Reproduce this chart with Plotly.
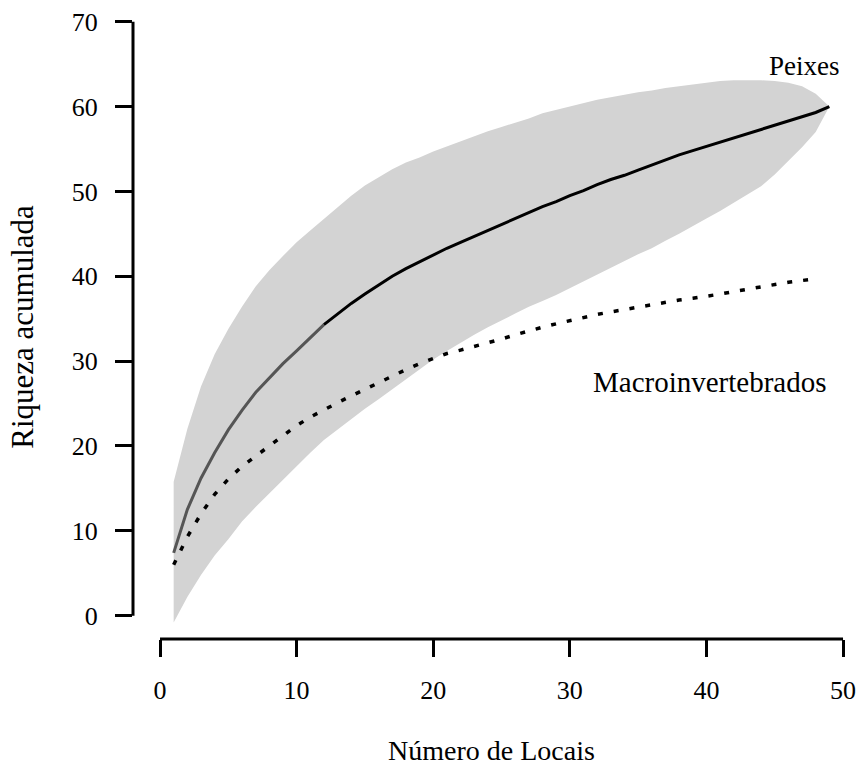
import plotly.graph_objects as go

# ---- data ----
sites = list(range(1, 50))
peixes = [7.4, 12.5, 16.2, 19.2, 21.9, 24.2, 26.3, 28.0, 29.7, 31.2,
          32.7, 34.3, 35.6, 36.8, 37.9, 39.0, 40.0, 40.9, 41.7, 42.5,
          43.3, 44.0, 44.7, 45.4, 46.1, 46.8, 47.5, 48.2, 48.8, 49.5,
          50.1, 50.8, 51.4, 51.9, 52.5, 53.1, 53.7, 54.3, 54.8, 55.3,
          55.8, 56.3, 56.8, 57.3, 57.8, 58.3, 58.8, 59.3, 60.0]
peixes_upper = [15.8, 22.0, 27.0, 30.8, 33.8, 36.4, 38.8, 40.7, 42.4, 44.0,
                45.4, 46.8, 48.1, 49.5, 50.7, 51.7, 52.6, 53.4, 54.0, 54.7,
                55.3, 55.9, 56.5, 57.1, 57.6, 58.1, 58.6, 59.2, 59.6, 60.0,
                60.4, 60.8, 61.1, 61.4, 61.7, 61.9, 62.2, 62.4, 62.6, 62.8,
                63.0, 63.1, 63.1, 63.1, 63.0, 62.8, 62.4, 61.5, 60.0]
peixes_lower = [-0.8, 2.2, 4.8, 7.1, 9.0, 11.1, 12.8, 14.5, 16.0, 17.6,
                19.2, 20.7, 22.0, 23.2, 24.4, 25.5, 26.6, 27.8, 29.0, 30.2,
                31.2, 32.2, 33.1, 34.0, 34.8, 35.6, 36.4, 37.1, 37.8, 38.6,
                39.4, 40.2, 41.0, 41.8, 42.6, 43.3, 44.2, 45.0, 45.9, 46.8,
                47.7, 48.6, 49.6, 50.6, 52.0, 53.6, 55.2, 57.0, 60.0]
macro_sites = list(range(1, 49))
macro = [6.0, 9.3, 12.0, 14.3, 16.1, 17.6, 18.8, 20.0, 21.2, 22.4,
         23.4, 24.3, 25.1, 25.9, 26.7, 27.5, 28.2, 29.0, 29.7, 30.3,
         30.9, 31.3, 31.7, 32.1, 32.6, 33.1, 33.6, 34.0, 34.4, 34.8,
         35.1, 35.5, 35.8, 36.1, 36.4, 36.7, 37.0, 37.2, 37.4, 37.6,
         37.9, 38.2, 38.5, 38.8, 39.1, 39.3, 39.5, 39.7]
x_ticks = [0, 10, 20, 30, 40, 50]
y_ticks = [0, 10, 20, 30, 40, 50, 60, 70]

FONT = "Liberation Serif, Times New Roman, serif"

fig = go.Figure()
# confidence band
fig.add_trace(go.Scatter(
    x=sites + sites[::-1], y=peixes_upper + peixes_lower[::-1],
    fill="toself", fillcolor="#d3d3d3", line=dict(width=0),
    mode="lines", hoverinfo="skip", showlegend=False))
# Peixes curve (grey first part, black remainder)
split = 12
fig.add_trace(go.Scatter(x=sites[:split], y=peixes[:split], mode="lines",
                         line=dict(color="#555555", width=3), showlegend=False))
fig.add_trace(go.Scatter(x=sites[split - 1:], y=peixes[split - 1:], mode="lines",
                         line=dict(color="#000000", width=3), showlegend=False))
# Macroinvertebrados curve
fig.add_trace(go.Scatter(x=macro_sites, y=macro, mode="lines",
                         line=dict(color="#000000", width=3.5, dash="5px,11px"),
                         showlegend=False))

# axis lines spanning first to last tick (R style)
fig.add_shape(type="line", xref="x", yref="paper", x0=x_ticks[0], x1=x_ticks[-1],
              y0=0, y1=0, line=dict(color="black", width=3))
fig.add_shape(type="line", xref="paper", yref="y", x0=0, x1=0,
              y0=y_ticks[0], y1=y_ticks[-1], line=dict(color="black", width=3))

fig.add_annotation(x=49.9, y=64.8, text="Peixes", showarrow=False,
                   xanchor="right", yanchor="middle",
                   font=dict(family=FONT, size=27, color="black"))
fig.add_annotation(x=48.95, y=27.5, text="Macroinvertebrados", showarrow=False,
                   xanchor="right", yanchor="middle",
                   font=dict(family=FONT, size=29, color="black"))

fig.update_xaxes(range=[-1.977, 50.51], tickvals=x_ticks, ticks="outside",
                 ticklen=17, tickwidth=3, tickcolor="black",
                 showline=False, showgrid=False, zeroline=False,
                 automargin=False,
                 tickfont=dict(family=FONT, size=26, color="black"),
                 ticklabelstandoff=11,
                 title=dict(text="Número de Locais", standoff=36,
                            font=dict(family=FONT, size=28, color="black")))
fig.update_yaxes(range=[-2.746, 70.79], tickvals=y_ticks, ticks="outside",
                 ticklen=17, tickwidth=3, tickcolor="black",
                 showline=False, showgrid=False, zeroline=False,
                 automargin=False,
                 tickfont=dict(family=FONT, size=26, color="black"),
                 ticklabelstandoff=12,
                 title=dict(text="Riqueza acumulada", standoff=28,
                            font=dict(family=FONT, size=31, color="black")))

fig.update_layout(width=858, height=767,
                  margin=dict(l=133, r=8, t=15, b=128),
                  plot_bgcolor="white", paper_bgcolor="white",
                  showlegend=False)

fig.write_html("out.html")
